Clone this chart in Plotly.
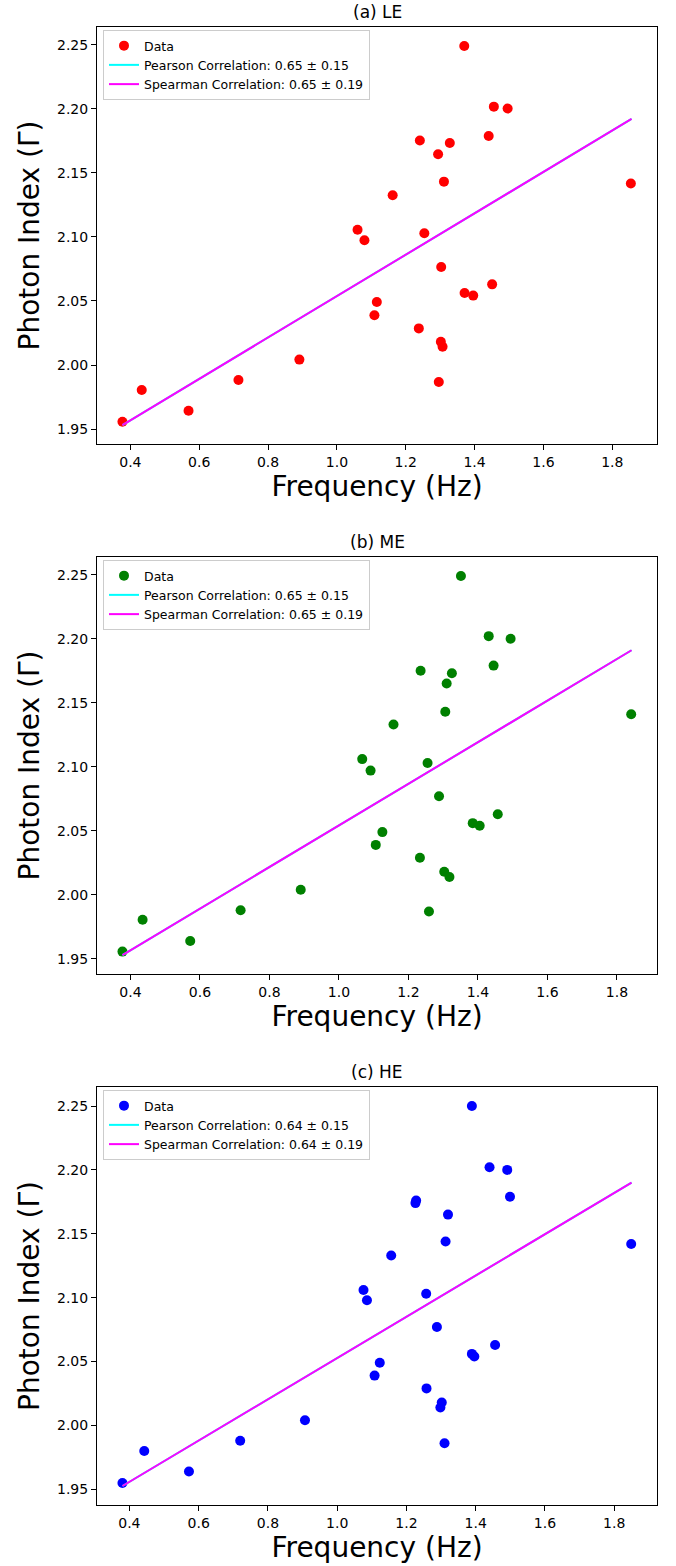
import plotly.graph_objects as go

# LE band
freq_le = [0.377, 0.433, 0.569, 0.714, 0.891, 1.060, 1.080, 1.116, 1.109, 1.162,
           1.241, 1.254, 1.238, 1.294, 1.328, 1.311, 1.303, 1.302, 1.307, 1.296,
           1.370, 1.371, 1.396, 1.441, 1.456, 1.496, 1.451, 1.854]
gamma_le = [1.9557, 1.9805, 1.9643, 1.9883, 2.0042, 2.1057, 2.0974, 2.0492, 2.0388, 2.1326,
            2.1753, 2.1029, 2.0286, 2.1646, 2.1734, 2.1432, 2.0766, 2.0182, 2.0143, 1.9867,
            2.2492, 2.0562, 2.0542, 2.1789, 2.2018, 2.2003, 2.0630, 2.1417]
fit_x_le = [0.377, 1.856]
fit_y_le = [1.9531, 2.1922]

# ME band
freq_me = [0.377, 0.435, 0.572, 0.717, 0.890, 1.067, 1.091, 1.125, 1.106, 1.157,
           1.235, 1.255, 1.233, 1.310, 1.325, 1.306, 1.288, 1.303, 1.318, 1.259,
           1.351, 1.385, 1.405, 1.445, 1.431, 1.494, 1.457, 1.841]
gamma_me = [1.9557, 1.9805, 1.9640, 1.9880, 2.0040, 2.1060, 2.0970, 2.0490, 2.0390, 2.1330,
            2.1750, 2.1030, 2.0290, 2.1650, 2.1730, 2.1430, 2.0770, 2.0180, 2.0140, 1.9870,
            2.2490, 2.0560, 2.0540, 2.1790, 2.2020, 2.2000, 2.0630, 2.1410]
fit_x_me = [0.377, 1.842]
fit_y_me = [1.9530, 2.1910]

# HE band
freq_he = [0.380, 0.443, 0.572, 0.720, 0.907, 1.076, 1.086, 1.123, 1.108, 1.156,
           1.228, 1.226, 1.257, 1.258, 1.320, 1.313, 1.288, 1.302, 1.298, 1.310,
           1.389, 1.389, 1.396, 1.499, 1.440, 1.491, 1.456, 1.849]
gamma_he = [1.9550, 1.9800, 1.9640, 1.9880, 2.0040, 2.1060, 2.0980, 2.0490, 2.0390, 2.1330,
            2.1760, 2.1740, 2.1030, 2.0290, 2.1650, 2.1440, 2.0770, 2.0180, 2.0140, 1.9860,
            2.2500, 2.0560, 2.0540, 2.1790, 2.2020, 2.2000, 2.0630, 2.1420]
fit_x_he = [0.380, 1.850]
fit_y_he = [1.9526, 2.1900]

titles = ["(a) LE", "(b) ME", "(c) HE"]
colors = ["red", "green", "blue"]
pearson = ["0.65 ± 0.15", "0.65 ± 0.15", "0.64 ± 0.15"]
spearman = ["0.65 ± 0.19", "0.65 ± 0.19", "0.64 ± 0.19"]
x_ticks = [0.4, 0.6, 0.8, 1.0, 1.2, 1.4, 1.6, 1.8]
y_ticks = [1.95, 2.0, 2.05, 2.1, 2.15, 2.2, 2.25]

panels = [
    (freq_le, gamma_le, fit_x_le, fit_y_le),
    (freq_me, gamma_me, fit_x_me, fit_y_me),
    (freq_he, gamma_he, fit_x_he, fit_y_he),
]

W, H = 676, 1566
# plot boxes in pixels (top, bottom)
boxes = [(27, 444), (557, 974), (1087, 1505)]
x_left, x_right = 97, 657

fig = go.Figure()
FONT = "DejaVu Sans"

for i, (fx, gy, lx, ly) in enumerate(panels):
    n = "" if i == 0 else str(i + 1)
    xa, ya = "x" + n, "y" + n
    leg = "legend" + n
    fig.add_trace(go.Scatter(x=fx, y=gy, mode="markers", name="Data",
                             marker=dict(color=colors[i], size=10),
                             xaxis=xa, yaxis=ya, legend=leg))
    fig.add_trace(go.Scatter(x=lx, y=ly, mode="lines",
                             name="Pearson Correlation: " + pearson[i],
                             line=dict(color="cyan", width=2),
                             xaxis=xa, yaxis=ya, legend=leg))
    fig.add_trace(go.Scatter(x=lx, y=ly, mode="lines",
                             name="Spearman Correlation: " + spearman[i],
                             line=dict(color="magenta", width=2),
                             xaxis=xa, yaxis=ya, legend=leg))

    top, bot = boxes[i]
    ydom = [1 - bot / H, 1 - top / H]
    xmin, xmax = min(fx + lx), max(fx + lx)
    ymin, ymax = min(gy + ly), max(gy + ly)
    mx, my = 0.05 * (xmax - xmin), 0.05 * (ymax - ymin)

    common = dict(showline=True, mirror=True, linecolor="black", linewidth=1,
                  ticks="outside", ticklen=5, tickcolor="black", showgrid=False,
                  zeroline=False, tickfont=dict(size=14, color="black", family=FONT))
    fig.layout["xaxis" + n] = dict(
        domain=[x_left / W, x_right / W], anchor=ya,
        range=[xmin - mx, xmax + mx], tickvals=x_ticks, tickformat=".1f",
        title=dict(text="Frequency (Hz)", font=dict(size=28, color="black", family=FONT),
                   standoff=3),
        **common)
    fig.layout["yaxis" + n] = dict(
        domain=ydom, anchor=xa,
        range=[ymin - my, ymax + my], tickvals=y_ticks, tickformat=".2f",
        title=dict(text="Photon Index (Γ)", font=dict(size=28, color="black", family=FONT),
                   standoff=9),
        **common)
    fig.layout[leg] = dict(
        x=(x_left + 6) / W, y=1 - (top + 3) / H, xanchor="left", yanchor="top",
        bgcolor="rgba(255,255,255,0.8)", bordercolor="#cccccc", borderwidth=1,
        font=dict(size=12.5, color="black", family=FONT), tracegroupgap=0,
        itemwidth=30)
    fig.add_annotation(text=titles[i], xref="paper", yref="paper",
                       x=(x_left + x_right) / 2 / W, y=1 - (top - 15) / H,
                       xanchor="center", yanchor="middle", showarrow=False,
                       font=dict(size=17, color="black", family=FONT))

fig.update_layout(width=W, height=H, margin=dict(l=0, r=0, t=0, b=0),
                  plot_bgcolor="white", paper_bgcolor="white",
                  font=dict(family=FONT))

# the page body has an 8px default margin; remove it so the figure sits at 0,0
fig.write_html("out.html", config={"displayModeBar": False},
               post_script="document.body.style.margin='0';document.body.style.overflow='hidden';")
